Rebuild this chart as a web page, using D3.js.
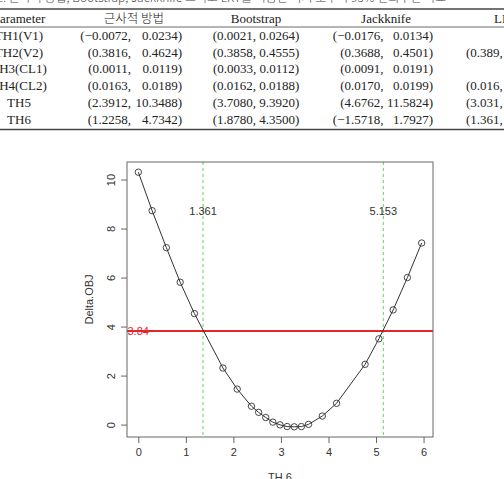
<!DOCTYPE html>
<html>
<head>
    <meta charset="utf-8" />
    <title>TH6 profile</title>
    <script src="https://cdn.jsdelivr.net/npm/d3@7"></script>
    <style>
        body { margin: 0; background: #fff; }
        svg { display: block; }
    </style>
</head>
<body>
    <svg id="chart" width="504" height="479"></svg>
    <script>
        // table values
        const caption = "표 2. 근사적 방법, Bootstrap, Jackknife 그리고 LRT를 이용한 미지 모수의 95% 신뢰구간 비교";
        const headers = ["Parameter", "근사적 방법", "Bootstrap", "Jackknife", "LRT"];
        const params = ["TH1(V1)", "TH2(V2)", "TH3(CL1)", "TH4(CL2)", "TH5", "TH6"];
        const approxLo = [-0.0072, 0.3816, 0.0011, 0.0163, 2.3912, 1.2258];
        const approxHi = [0.0234, 0.4624, 0.0119, 0.0189, 10.3488, 4.7342];
        const bootLo = [0.0021, 0.3858, 0.0033, 0.0162, 3.7080, 1.8780];
        const bootHi = [0.0264, 0.4555, 0.0112, 0.0188, 9.3920, 4.3500];
        const jackLo = [-0.0176, 0.3688, 0.0091, 0.0170, 4.6762, -1.5718];
        const jackHi = [0.0134, 0.4501, 0.0191, 0.0199, 11.5824, 1.7927];
        const lrtLo = [null, 0.389, null, 0.016, 3.031, 1.361];

        // profile of TH6
        const theta = [0, 0.29, 0.59, 0.88, 1.18, 1.78, 2.08, 2.38, 2.53, 2.68, 2.83, 2.98,
                       3.13, 3.28, 3.43, 3.58, 3.87, 4.17, 4.77, 5.06, 5.36, 5.66, 5.96];
        const deltaObj = [10.32, 8.75, 7.24, 5.83, 4.55, 2.33, 1.47, 0.77, 0.52, 0.31, 0.12, 0.01,
                          -0.06, -0.07, -0.06, 0.03, 0.37, 0.89, 2.48, 3.52, 4.70, 6.02, 7.43];
        const cutoff = 3.84;
        const bounds = [1.361, 5.153];
        const boundLabelAt = 8.72;
        const xTicks = [0, 1, 2, 3, 4, 5, 6];
        const yTicks = [0, 2, 4, 6, 8, 10];

        const svg = d3.select('#chart');
        const serif = '"Liberation Serif", "DejaVu Serif", serif';
        const cjk = '"Noto Sans CJK KR", sans-serif';
        const fmt = v => v.toFixed(4).replace('-', '\u2212');

        // ---- table ----
        const tbl = svg.append('g').style('font-family', serif).style('font-size', '13px').attr('fill', '#222');
        tbl.append('text')
            .attr('x', -17).attr('y', 2)
            .style('font-family', cjk).style('font-size', '12px').style('font-weight', 300)
            .attr('fill', '#444')
            .text(caption);

        const rowY = d3.scalePoint().domain(params).range([35.3, 119.7]);
        const colX = [19, 134, 256, 386, 506];
        const rules = [[9, 1.3], [27, 0.8], [129.5, 1.3]];
        tbl.selectAll('line.rule')
            .data(rules)
            .enter().append('line')
            .attr('x1', 0).attr('x2', 504)
            .attr('y1', d => d[0]).attr('y2', d => d[0])
            .attr('stroke', '#444').attr('stroke-width', d => d[1]);

        tbl.selectAll('text.head')
            .data(headers)
            .enter().append('text')
            .attr('x', (d, i) => colX[i]).attr('y', 22.8)
            .attr('text-anchor', 'middle')
            .style('font-family', (d, i) => i == 1 ? cjk : serif)
            .style('font-weight', (d, i) => i == 1 ? 300 : null)
            .style('font-size', (d, i) => i == 1 ? '12.5px' : '13px')
            .text(d => d);

        const rows = tbl.selectAll('g.row')
            .data(params)
            .enter().append('g')
            .attr('transform', d => `translate(0,${rowY(d) + 4.4})`);
        rows.append('text').attr('x', colX[0]).attr('text-anchor', 'middle').text(d => d);
        // 근사적 방법: two right-aligned parts
        rows.append('text').attr('x', 131).attr('text-anchor', 'end').text((d, i) => `(${fmt(approxLo[i])},`);
        rows.append('text').attr('x', 182).attr('text-anchor', 'end').text((d, i) => `${fmt(approxHi[i])})`);
        // Bootstrap
        rows.append('text').attr('x', colX[2]).attr('text-anchor', 'middle')
            .text((d, i) => `(${fmt(bootLo[i])}, ${fmt(bootHi[i])})`);
        // Jackknife
        rows.append('text').attr('x', 383.5).attr('text-anchor', 'end').text((d, i) => `(${fmt(jackLo[i])},`);
        rows.append('text').attr('x', 433).attr('text-anchor', 'end').text((d, i) => `${fmt(jackHi[i])})`);
        // LRT (only the lower bound is inside the picture)
        rows.append('text').attr('x', 466)
            .text((d, i) => lrtLo[i] == null ? '' : `(${lrtLo[i].toFixed(3)},`);

        // ---- plot ----
        const box = { left: 127, right: 433, top: 162, bottom: 437 };
        const rPad = ext => { const p = (ext[1] - ext[0]) * 0.04; return [ext[0] - p, ext[1] + p]; };
        const x = d3.scaleLinear().domain(rPad(d3.extent(theta))).range([box.left, box.right]);
        const y = d3.scaleLinear().domain(rPad(d3.extent(deltaObj))).range([box.bottom, box.top]);
        const sans = '"Liberation Sans", Arial, sans-serif';

        const plot = svg.append('g').style('font-family', sans).style('font-size', '11px');

        const xAxis = plot.append('g')
            .attr('transform', `translate(0,${box.bottom})`)
            .call(d3.axisBottom(x).tickValues(xTicks).tickFormat(d3.format('d')).tickSize(6).tickPadding(5));
        const yAxis = plot.append('g')
            .attr('transform', `translate(${box.left},0)`)
            .call(d3.axisLeft(y).tickValues(yTicks).tickFormat(d3.format('d')).tickSize(6).tickPadding(6));
        [xAxis, yAxis].forEach(a => {
            a.attr('font-family', null).attr('font-size', null);
            a.select('.domain').remove();
            a.selectAll('line').attr('stroke', '#666');
            a.selectAll('text').attr('fill', '#333');
        });
        xAxis.selectAll('text').attr('dy', '0.71em');
        yAxis.selectAll('text')
            .attr('x', null).attr('dy', null)
            .attr('text-anchor', 'middle')
            .attr('transform', d => `translate(-12.5,${y(d)}) rotate(-90)`)
            .attr('y', 0);
        yAxis.selectAll('.tick').attr('transform', null);
        yAxis.selectAll('.tick line').attr('y1', d => y(d)).attr('y2', d => y(d));

        plot.append('text')
            .attr('x', (box.left + box.right) / 2).attr('y', 481)
            .attr('text-anchor', 'middle').attr('fill', '#333')
            .text('TH 6');
        plot.append('text')
            .attr('transform', `translate(93,${(box.top + box.bottom) / 2}) rotate(-90)`)
            .attr('text-anchor', 'middle').attr('fill', '#333')
            .text('Delta.OBJ');

        plot.append('clipPath').attr('id', 'clip')
            .append('rect')
            .attr('x', box.left).attr('y', box.top)
            .attr('width', box.right - box.left).attr('height', box.bottom - box.top);
        const inner = plot.append('g').attr('clip-path', 'url(#clip)');

        inner.selectAll('line.bound')
            .data(bounds)
            .enter().append('line')
            .attr('x1', d => x(d)).attr('x2', d => x(d))
            .attr('y1', box.top).attr('y2', box.bottom)
            .attr('stroke', '#5fd35f').attr('stroke-width', 1)
            .attr('stroke-dasharray', '3,3');

        inner.append('line')
            .attr('x1', box.left).attr('x2', box.right)
            .attr('y1', y(cutoff)).attr('y2', y(cutoff))
            .attr('stroke', '#e3262b').attr('stroke-width', 2);

        const pts = theta.map((t, i) => [t, deltaObj[i]]);
        inner.append('path')
            .datum(pts)
            .attr('d', d3.line().x(d => x(d[0])).y(d => y(d[1])))
            .attr('fill', 'none').attr('stroke', '#333').attr('stroke-width', 1);
        inner.selectAll('circle')
            .data(pts)
            .enter().append('circle')
            .attr('cx', d => x(d[0])).attr('cy', d => y(d[1]))
            .attr('r', 3.2)
            .attr('fill', 'none').attr('stroke', '#333').attr('stroke-width', 0.9);

        plot.append('text')
            .attr('x', box.left + 0.5).attr('y', y(cutoff)).attr('dy', '0.35em')
            .attr('fill', '#e3262b')
            .text(cutoff.toFixed(2));

        plot.selectAll('text.bound')
            .data(bounds)
            .enter().append('text')
            .attr('x', d => x(d)).attr('y', y(boundLabelAt)).attr('dy', '0.35em')
            .attr('text-anchor', 'middle').attr('fill', '#333')
            .text(d => d.toFixed(3));

        plot.append('rect')
            .attr('x', box.left).attr('y', box.top)
            .attr('width', box.right - box.left).attr('height', box.bottom - box.top)
            .attr('fill', 'none').attr('stroke', '#666').attr('stroke-width', 1);
    </script>
</body>
</html>
